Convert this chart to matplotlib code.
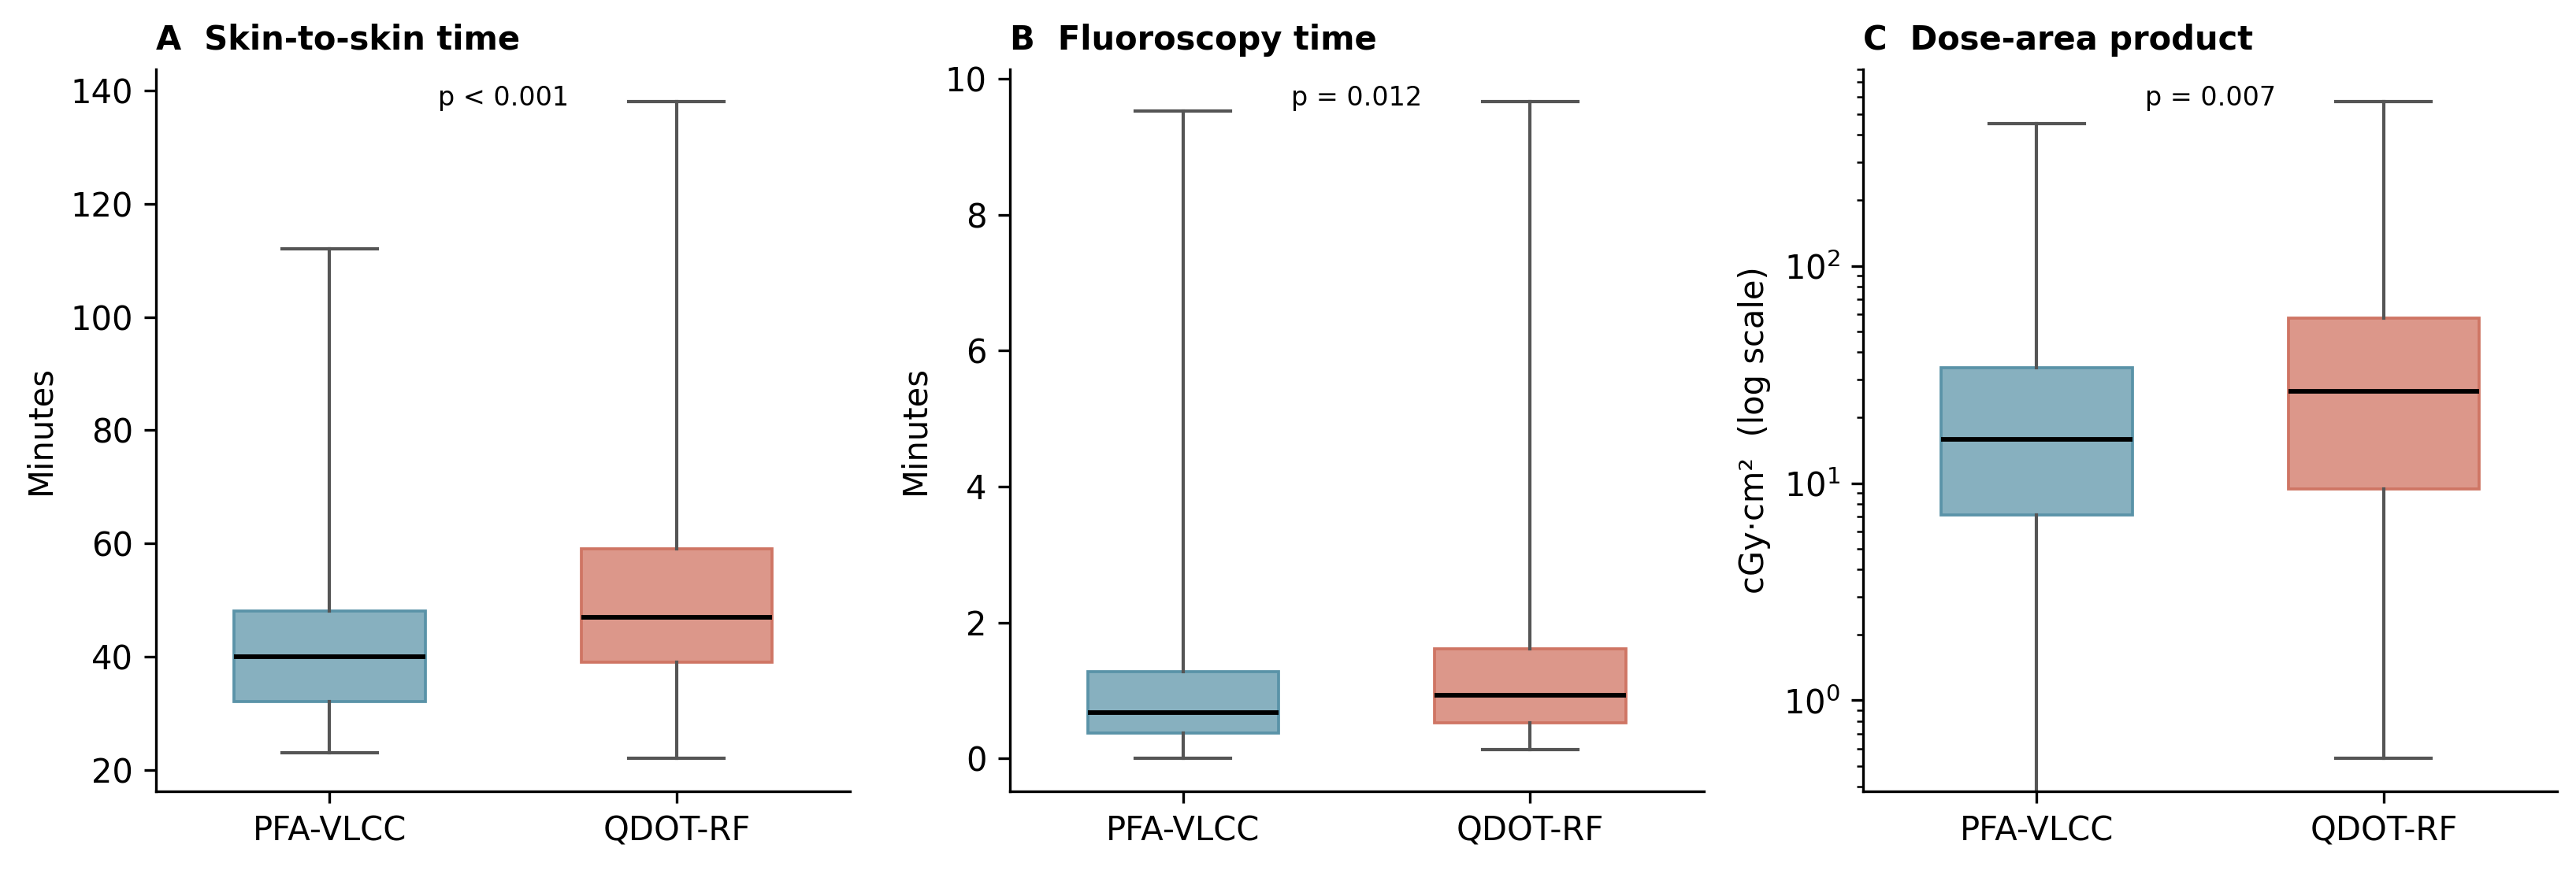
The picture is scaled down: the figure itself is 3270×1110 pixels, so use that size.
import matplotlib
matplotlib.use("Agg")
import matplotlib.pyplot as plt

groups = ["PFA-VLCC", "QDOT-RF"]

# five-number summaries: whisker low, Q1, median, Q3, whisker high
skin_pfa = [23, 32, 40, 48, 112]
skin_qdot = [22, 39, 47, 59, 138]
fluoro_pfa = [0.0, 0.37, 0.68, 1.28, 9.52]
fluoro_qdot = [0.13, 0.52, 0.93, 1.61, 9.66]
dap_pfa = [0.0, 7.15, 15.9, 34.0, 452]
dap_qdot = [0.54, 9.4, 26.4, 57.5, 568]

titles = ["A  Skin-to-skin time", "B  Fluoroscopy time", "C  Dose-area product"]
ylabels = ["Minutes", "Minutes", "cGy\u00b7cm\u00b2  (log scale)"]
pvals = ["p < 0.001", "p = 0.012", "p = 0.007"]

face_cols = ["#87b0bf", "#dc978a"]
edge_cols = ["#5a93a8", "#cf7564"]


def stats(vals, name):
    lo, q1, med, q3, hi = vals
    return dict(label=name, whislo=lo, q1=q1, med=med, q3=q3, whishi=hi, fliers=[])


fig, axes = plt.subplots(1, 3, figsize=(10.9, 3.7), dpi=300)
fig.subplots_adjust(left=0.0606, right=0.9927, bottom=0.0946, top=0.921, wspace=0.23)

data = [(skin_pfa, skin_qdot), (fluoro_pfa, fluoro_qdot), (dap_pfa, dap_qdot)]

for i, ax in enumerate(axes):
    if i == 2:
        ax.set_yscale("log")
    bs = [stats(v, g) for v, g in zip(data[i], groups)]
    res = ax.bxp(bs, positions=[0, 1], widths=0.55, patch_artist=True,
                 showfliers=False,
                 whiskerprops=dict(color="#555555", lw=1.0),
                 capprops=dict(color="#555555", lw=1.0),
                 medianprops=dict(color="black", lw=1.4))
    for b, fc, ec in zip(res["boxes"], face_cols, edge_cols):
        b.set_facecolor(fc)
        b.set_edgecolor(ec)
        b.set_linewidth(0.9)
    ax.set_xlim(-0.5, 1.5)
    ax.set_xticks([0, 1])
    ax.set_xticklabels(groups, fontsize=10)
    ax.tick_params(axis="y", labelsize=10)
    ax.set_ylabel(ylabels[i], fontsize=10)
    ax.set_title(titles[i], loc="left", fontsize=10, fontweight="bold")
    ax.text(0.5, 0.978, pvals[i], transform=ax.transAxes, ha="center", va="top", fontsize=8)
    ax.spines["top"].set_visible(False)
    ax.spines["right"].set_visible(False)

fig.savefig("out.png", dpi=300, facecolor="white")
